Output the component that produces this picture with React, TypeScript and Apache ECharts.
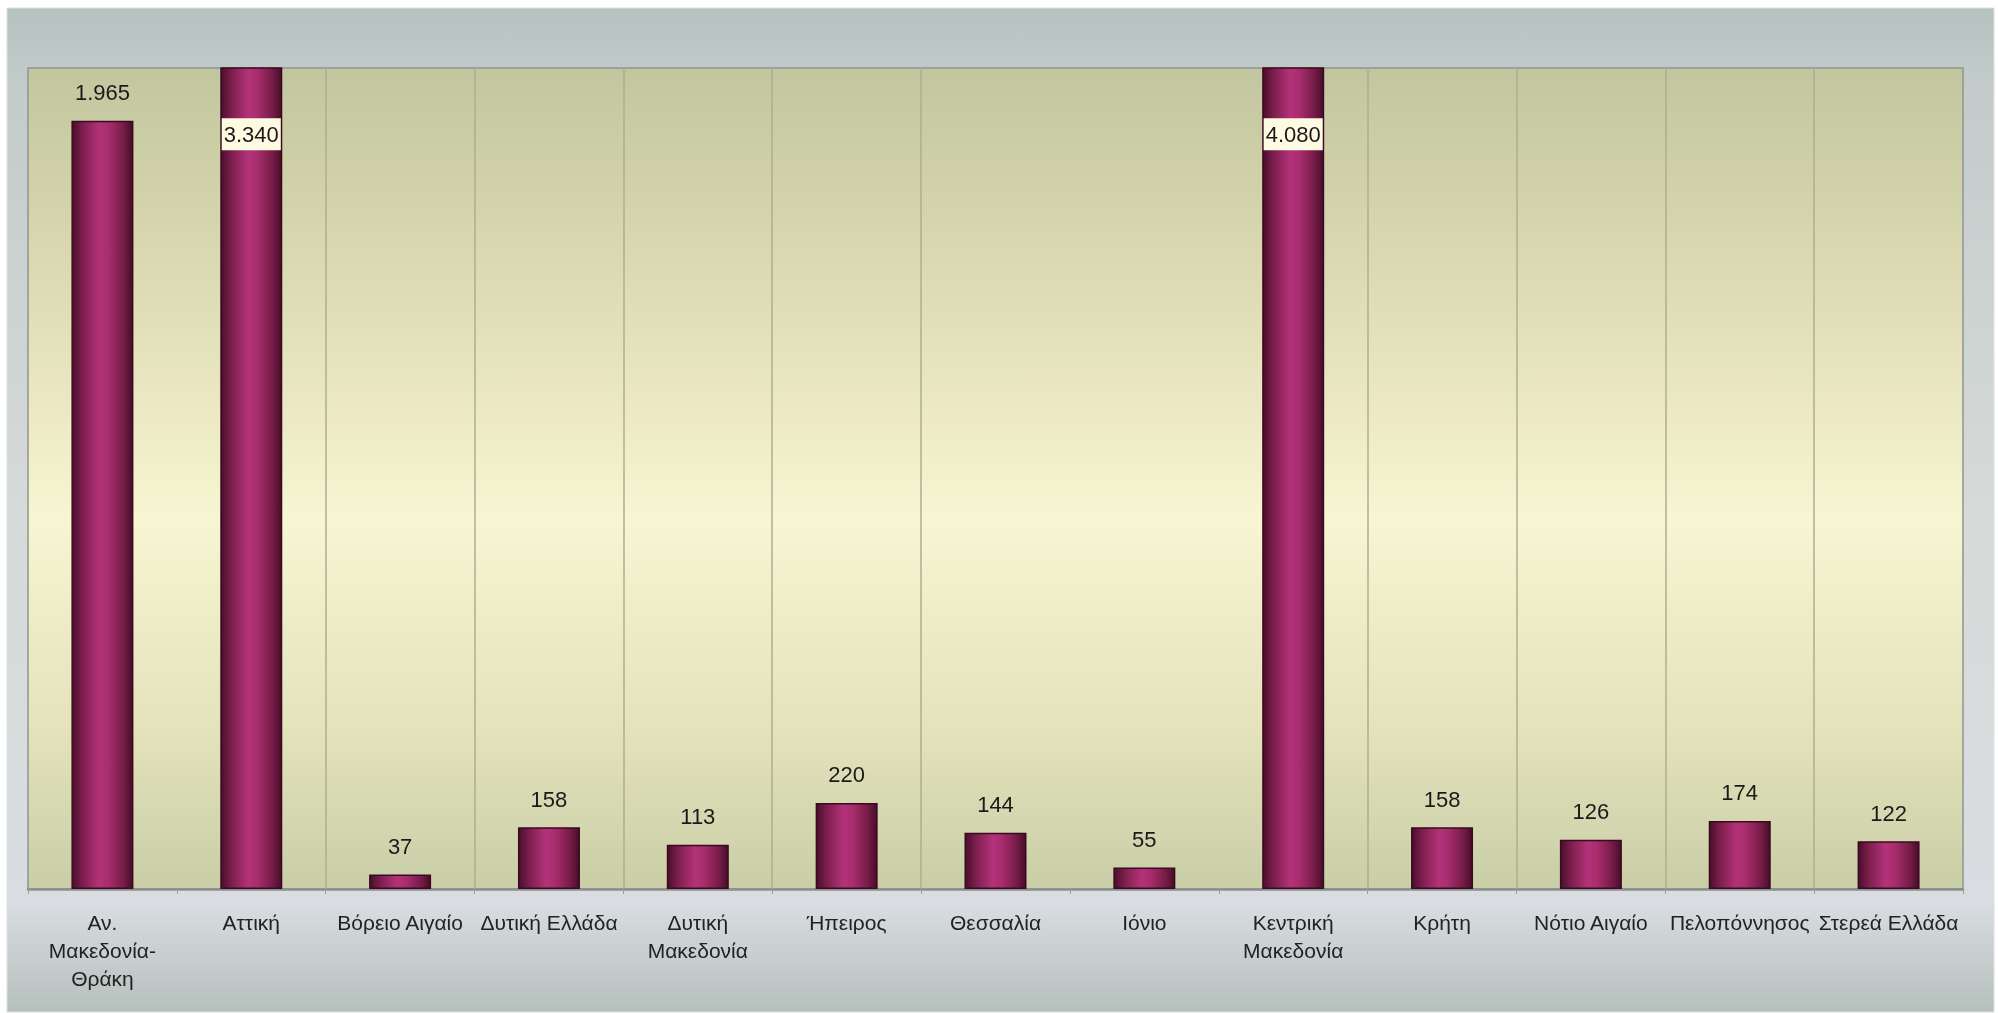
import React, { useEffect, useRef } from "react";
import * as echarts from "echarts";

const categories = [
  "Αν.\nΜακεδονία-\nΘράκη",
  "Αττική",
  "Βόρειο Αιγαίο",
  "Δυτική Ελλάδα",
  "Δυτική\nΜακεδονία",
  "Ήπειρος",
  "Θεσσαλία",
  "Ιόνιο",
  "Κεντρική\nΜακεδονία",
  "Κρήτη",
  "Νότιο Αιγαίο",
  "Πελοπόννησος",
  "Στερεά Ελλάδα",
];
const values = [1965, 3340, 37, 158, 113, 220, 144, 55, 4080, 158, 126, 174, 122];
const yMax = 2100;

const FONT = '"Liberation Sans", Arial, sans-serif';

function fmt(v: number): string {
  return String(v).replace(/\B(?=(\d{3})+(?!\d))/g, ".");
}

export default function App() {
  const ref = useRef<HTMLDivElement>(null);

  useEffect(() => {
    document.body.style.margin = "0";
    document.body.style.background = "#ffffff";
    const chart = echarts.init(ref.current!, null, { renderer: "svg" });

    const grid = (c: string) => c;
    const splitColors = [
      "rgba(0,0,0,0)",
      "rgba(0,0,0,0)",
      "#aeae90",
      "#aeae90",
      "#aeae90",
      "#aeae90",
      "#aeae90",
      "rgba(0,0,0,0)",
      "rgba(0,0,0,0)",
      "#aeae90",
      "#aeae90",
      "#aeae90",
      "#aeae90",
      "rgba(0,0,0,0)",
    ];

    const barData = values.map((v) =>
      v > yMax
        ? {
            value: v,
            label: {
              position: "insideTop",
              distance: 51,
              backgroundColor: "#fffbe3",
              padding: [5, 2, 5, 2],
            },
          }
        : v
    );

    chart.setOption({
      animation: false,
      graphic: [
        {
          type: "rect",
          z: -100,
          silent: true,
          shape: { x: 7, y: 8, width: 1987, height: 1004 },
          style: {
            fill: {
              type: "linear",
              x: 0,
              y: 0,
              x2: 0,
              y2: 1,
              colorStops: [
                { offset: 0, color: "#b5c2c0" },
                { offset: 0.08, color: "#c3cccb" },
                { offset: 0.5, color: "#d6dad8" },
                { offset: 0.89, color: "#d9dde1" },
                { offset: 1, color: "#b5c0bd" },
              ],
            },
            stroke: "#dde1e1",
            lineWidth: 1,
          },
        },
      ],
      grid: {
        left: 28,
        right: 35,
        top: 68,
        bottom: 124,
        show: true,
        borderColor: "#8e9592",
        borderWidth: 1.5,
        backgroundColor: {
          type: "linear",
          x: 0,
          y: 0,
          x2: 0,
          y2: 1,
          colorStops: [
            { offset: 0, color: "#c2c69e" },
            { offset: 0.25, color: "#dcdab2" },
            { offset: 0.55, color: "#f8f5d2" },
            { offset: 0.8, color: "#e4e3bc" },
            { offset: 1, color: "#c9cea6" },
          ],
        },
      },
      xAxis: {
        type: "category",
        data: categories,
        boundaryGap: true,
        axisLine: { show: true, lineStyle: { color: "#8a8f8d", width: 2.5 } },
        axisTick: { show: true, length: 5, lineStyle: { color: "#9a9f9d", width: 1 } },
        axisLabel: {
          interval: 0,
          margin: 19,
          fontFamily: FONT,
          fontSize: 21,
          lineHeight: 28,
          color: "#222222",
        },
        splitLine: {
          show: true,
          lineStyle: { color: splitColors, width: 1.5 },
        },
      },
      yAxis: {
        type: "value",
        min: 0,
        max: yMax,
        show: false,
        splitLine: { show: false },
      },
      series: [
        {
          type: "bar",
          data: barData,
          barWidth: 62,
          clip: true,
          itemStyle: {
            color: {
              type: "linear",
              x: 0,
              y: 0,
              x2: 1,
              y2: 0,
              colorStops: [
                { offset: 0, color: "#4a0e2b" },
                { offset: 0.18, color: "#7e1f4e" },
                { offset: 0.45, color: "#b3327a" },
                { offset: 0.6, color: "#a82d6e" },
                { offset: 0.85, color: "#761c47" },
                { offset: 1, color: "#470d29" },
              ],
            },
            borderColor: "#3a0a20",
            borderWidth: 1.5,
          },
          label: {
            show: true,
            position: "top",
            distance: 17,
            fontFamily: FONT,
            fontSize: 22,
            color: "#1a1a1a",
            formatter: (p: any) => fmt(p.value),
          },
        },
      ],
    });

    return () => chart.dispose();
  }, []);

  return (
    <div
      ref={ref}
      style={{ position: "fixed", left: 0, top: 0, width: 1998, height: 1013 }}
    />
  );
}
